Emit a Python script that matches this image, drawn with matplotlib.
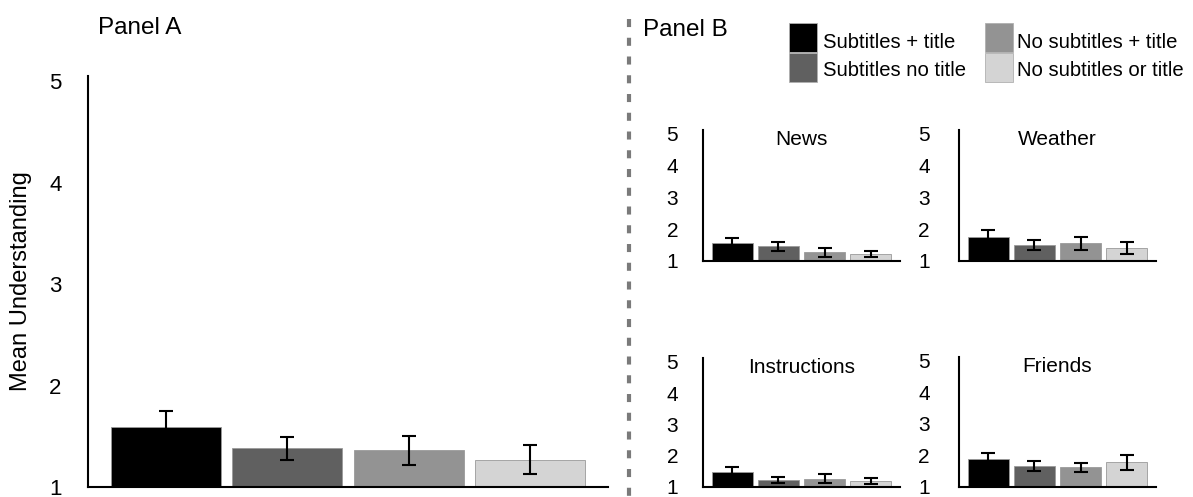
import matplotlib
matplotlib.use('Agg')
import matplotlib.pyplot as plt
from matplotlib.patches import Rectangle
from matplotlib.lines import Line2D

plt.rcParams['font.family'] = ['Liberation Sans', 'DejaVu Sans']
plt.rcParams['lines.scale_dashes'] = False

# Conditions and colours
conditions = ['Subtitles + title', 'Subtitles no title',
              'No subtitles + title', 'No subtitles or title']
bar_colors = ['#000000', '#606060', '#939393', '#d4d4d4']

# Panel A: overall mean understanding
overall_means = [1.59, 1.38, 1.36, 1.27]
overall_err = [0.16, 0.11, 0.14, 0.14]

# Panel B: per genre
genres = ['News', 'Weather', 'Instructions', 'Friends']
news_means = [1.57, 1.47, 1.28, 1.23]
news_err = [0.15, 0.14, 0.14, 0.09]
weather_means = [1.76, 1.50, 1.56, 1.42]
weather_err = [0.21, 0.16, 0.20, 0.19]
instructions_means = [1.47, 1.22, 1.26, 1.19]
instructions_err = [0.18, 0.09, 0.14, 0.11]
friends_means = [1.88, 1.66, 1.62, 1.79]
friends_err = [0.19, 0.16, 0.15, 0.24]

genre_means = [news_means, weather_means, instructions_means, friends_means]
genre_err = [news_err, weather_err, instructions_err, friends_err]

W, H = 1193, 497
fig = plt.figure(figsize=(W / 100, H / 100), dpi=100)


def rect(x0, y0, x1, y1):
    # pixel box (top-left origin) -> figure fraction
    return [x0 / W, 1 - y1 / H, (x1 - x0) / W, (y1 - y0) / H]


def draw_bars(ax, means, err, ytop, tick_size, pad, capsize, lw):
    x = range(len(means))
    ax.bar(x, means, width=0.905, color=bar_colors, edgecolor='#9a9a9a',
           linewidth=0.6, zorder=2)
    ax.errorbar(x, means, yerr=err, fmt='none', ecolor='black',
                elinewidth=lw, capsize=capsize, capthick=lw, zorder=3)
    ax.set_xlim(-0.64, 3.64)
    ax.set_ylim(1, ytop)
    ax.set_yticks([1, 2, 3, 4, 5])
    ax.set_xticks([])
    ax.tick_params(axis='y', length=0, pad=pad, labelsize=tick_size)
    for side in ['top', 'right']:
        ax.spines[side].set_visible(False)
    for side in ['left', 'bottom']:
        ax.spines[side].set_linewidth(1.5)
        ax.spines[side].set_color('black')
    ax.patch.set_alpha(0)


# Panel A
axA = fig.add_axes(rect(88, 76, 608, 487))
draw_bars(axA, overall_means, overall_err, 5.05, 16, 19, 5, 1.5)
axA.set_ylabel('Mean Understanding', fontsize=17, labelpad=12)
fig.text(98 / W, 1 - 28 / H, 'Panel A', fontsize=17.5, va='center', ha='left')

# Panel B
boxes = [(703, 130, 900, 261), (959, 130, 1156, 261),
         (703, 358, 900, 487), (959, 357, 1156, 487)]
for i, (name, box) in enumerate(zip(genres, boxes)):
    ax = fig.add_axes(rect(*box))
    pad = 18 if i % 2 == 0 else 21
    draw_bars(ax, genre_means[i], genre_err[i], 5.12, 15, pad, 4.7, 1.5)
    ax.text(0.5, 0.93, name, transform=ax.transAxes, ha='center',
            va='center', fontsize=15)

fig.text(643 / W, 1 - 30 / H, 'Panel B', fontsize=17.5, va='center', ha='left')

# dashed divider between panels
divider = Line2D([629 / W, 629 / W], [1 - 19 / H, 0], transform=fig.transFigure,
                 color='#7a7a7a', linewidth=3, dashes=(5.8, 7.7))
fig.add_artist(divider)

# legend: two columns of swatches with labels
swatch_x = [789, 985]
label_x = [823, 1017]
for i, (label, color) in enumerate(zip(conditions, bar_colors)):
    col, row = i // 2, i % 2
    top = 23 + row * 30
    fig.add_artist(Rectangle((swatch_x[col] / W, 1 - (top + 29) / H),
                             28 / W, 29 / H, transform=fig.transFigure,
                             facecolor=color, edgecolor='#b0b0b0',
                             linewidth=0.6))
    fig.text(label_x[col] / W, 1 - (48 + row * 28) / H, label,
             fontsize=14.6, va='baseline', ha='left')

fig.savefig('out.png', dpi=100)
